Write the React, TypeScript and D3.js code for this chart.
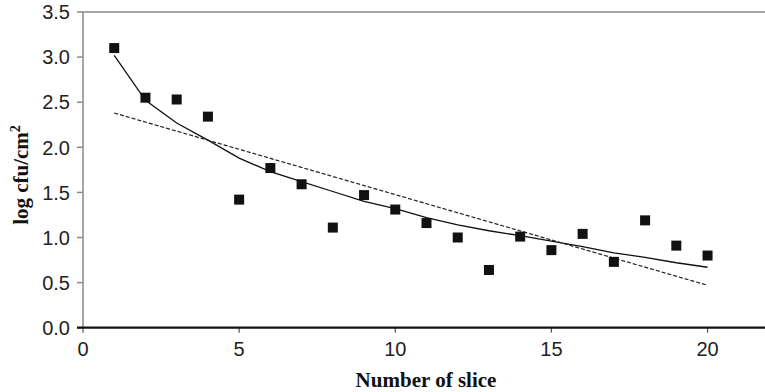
import React from "react";
import * as d3 from "d3";

const slices = [1, 2, 3, 4, 5, 6, 7, 8, 9, 10, 11, 12, 13, 14, 15, 16, 17, 18, 19, 20];
const logCfu = [3.1, 2.55, 2.53, 2.34, 1.42, 1.77, 1.59, 1.11, 1.47, 1.31, 1.16, 1.0, 0.64, 1.01, 0.86, 1.04, 0.73, 1.19, 0.91, 0.8];
const curveFit = [3.02, 2.52, 2.27, 2.08, 1.88, 1.73, 1.62, 1.51, 1.4, 1.32, 1.22, 1.14, 1.075, 1.02, 0.96, 0.9, 0.83, 0.78, 0.72, 0.67];
const linearFitX = [1, 20];
const linearFitY = [2.38, 0.47];
const xTicks = [0, 5, 10, 15, 20];
const yTicks = [0, 0.5, 1, 1.5, 2, 2.5, 3, 3.5];

export default function App() {
  const W = 765, H = 392;
  const x = d3.scaleLinear().domain([0, 22]).range([83, 770]);
  const y = d3.scaleLinear().domain([0, 3.5]).range([327.7, 12]);
  const line = d3.line<[number, number]>().x(d => x(d[0])).y(d => y(d[1]));
  const curvePts: [number, number][] = slices.map((s, i) => [s, curveFit[i]]);
  const linPts: [number, number][] = linearFitX.map((s, i) => [s, linearFitY[i]]);
  const sq = 10;
  const sans = "Liberation Sans, Arial, Helvetica, sans-serif";
  const serif = "Liberation Serif, Times New Roman, serif";
  return (
    <svg width={W} height={H} style={{ position: "absolute", left: 0, top: 0, background: "#fff" }}>
      {/* top border */}
      <line x1={x(0)} x2={W} y1={y(3.5)} y2={y(3.5)} stroke="#888" strokeWidth={1.5} />
      {/* y axis */}
      <line x1={x(0)} x2={x(0)} y1={y(3.5)} y2={y(0)} stroke="#888" strokeWidth={1.5} />
      {yTicks.map(t => (
        <g key={t}>
          <line x1={x(0) - 6} x2={x(0)} y1={y(t)} y2={y(t)} stroke="#888" strokeWidth={1.5} />
          <text x={70} y={y(t)} dy="0.36em" textAnchor="end" fontFamily={sans} fontSize={20} fill="#222">
            {t.toFixed(1)}
          </text>
        </g>
      ))}
      {/* x axis */}
      {xTicks.map(t => (
        <g key={t}>
          <line x1={x(t)} x2={x(t)} y1={y(0)} y2={y(0) + 5} stroke="#555" strokeWidth={1.2} />
          <text x={x(t)} y={348.5} dy="0.36em" textAnchor="middle" fontFamily={sans} fontSize={20} fill="#222">
            {t}
          </text>
        </g>
      ))}
      <line x1={x(0) - 6} x2={W} y1={y(0)} y2={y(0)} stroke="#111" strokeWidth={2.2} />
      {/* fits */}
      <path d={line(curvePts) || ""} fill="none" stroke="#111" strokeWidth={1.3} />
      <path d={line(linPts) || ""} fill="none" stroke="#222" strokeWidth={1.2} strokeDasharray="4,2" />
      {/* points */}
      {slices.map((s, i) => (
        <rect key={s} x={x(s) - sq / 2} y={y(logCfu[i]) - sq / 2} width={sq} height={sq} fill="#111" />
      ))}
      {/* axis titles */}
      <text x={426} y={386.5} textAnchor="middle" fontFamily={serif} fontWeight="bold" fontSize={21} fill="#111">
        Number of slice
      </text>
      <text transform={`translate(28,175) rotate(-90)`} textAnchor="middle" fontFamily={serif} fontWeight="bold" fontSize={21} fill="#111">
        log cfu/cm<tspan dy="-8" fontSize={14}>2</tspan>
      </text>
    </svg>
  );
}
